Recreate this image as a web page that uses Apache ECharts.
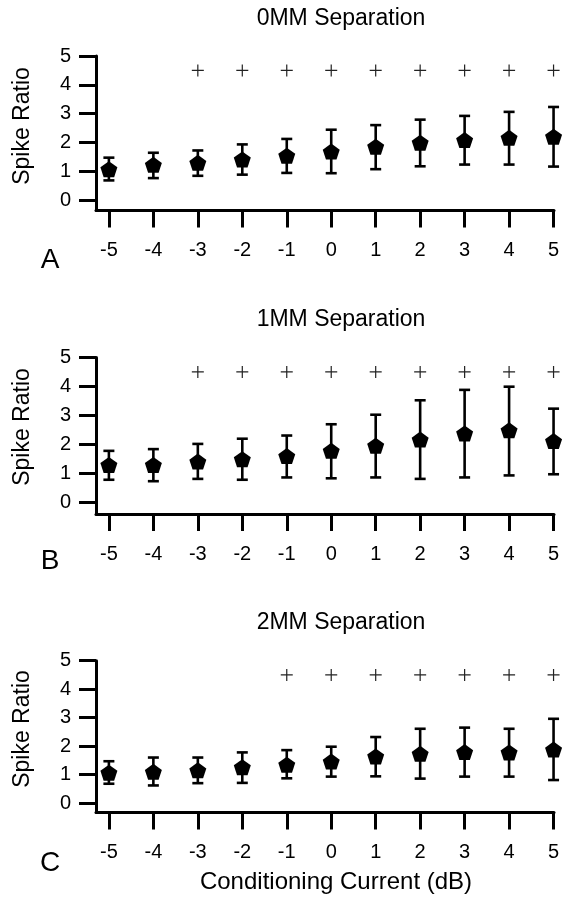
<!DOCTYPE html>
<html>
<head>
<meta charset="utf-8">
<script src="https://cdn.jsdelivr.net/npm/echarts@6/dist/echarts.min.js"></script>
<style>
  html, body { margin: 0; padding: 0; background: #fff; }
  #main { width: 563px; height: 897px; }
</style>
</head>
<body>
<div id="main"></div>
<script type="text/javascript">
// conditioning current (dB)
var currents = [-5, -4, -3, -2, -1, 0, 1, 2, 3, 4, 5];
var yTicks = [0, 1, 2, 3, 4, 5];

// 0MM separation
var meanA = [1.07, 1.22, 1.29, 1.41, 1.54, 1.68, 1.85, 1.99, 2.08, 2.16, 2.20];
var lowA  = [0.68, 0.76, 0.84, 0.88, 0.94, 0.93, 1.07, 1.17, 1.23, 1.23, 1.16];
var highA = [1.47, 1.64, 1.72, 1.93, 2.12, 2.44, 2.60, 2.79, 2.92, 3.06, 3.23];
var sigA  = [-3, -2, -1, 0, 1, 2, 3, 4, 5];

// 1MM separation
var meanB = [1.28, 1.28, 1.40, 1.48, 1.59, 1.77, 1.95, 2.16, 2.37, 2.48, 2.11];
var lowB  = [0.77, 0.72, 0.80, 0.77, 0.85, 0.82, 0.85, 0.80, 0.85, 0.92, 0.96];
var highB = [1.77, 1.83, 2.01, 2.19, 2.30, 2.69, 3.02, 3.52, 3.88, 3.99, 3.23];
var sigB  = [-3, -2, -1, 0, 1, 2, 3, 4, 5];

// 2MM separation
var meanC = [1.07, 1.10, 1.15, 1.26, 1.35, 1.46, 1.64, 1.73, 1.79, 1.78, 1.88];
var lowC  = [0.68, 0.62, 0.70, 0.71, 0.87, 0.93, 0.94, 0.86, 0.93, 0.93, 0.81];
var highC = [1.47, 1.60, 1.60, 1.78, 1.86, 1.98, 2.32, 2.61, 2.65, 2.61, 2.96];
var sigC  = [-1, 0, 1, 2, 3, 4, 5];

var sigLevel = 4.5;

var panels = [
    { title: '0MM Separation', letter: 'A', mean: meanA, low: lowA, high: highA, sig: sigA,
      top: 56, height: 154.5, ymin: -0.365, titleY: 19, letterY: 260, nameY: 126 },
    { title: '1MM Separation', letter: 'B', mean: meanB, low: lowB, high: highB, sig: sigB,
      top: 357.5, height: 156.5, ymin: -0.415, titleY: 320, letterY: 561, nameY: 427 },
    { title: '2MM Separation', letter: 'C', mean: meanC, low: lowC, high: highC, sig: sigC,
      top: 660.7, height: 151.8, ymin: -0.33, titleY: 623, letterY: 863, nameY: 729 }
];

var FONT = '"Liberation Sans", Arial, sans-serif';
var pentagon = 'path://M50,0 L97.55,34.55 L79.39,90.45 L20.61,90.45 L2.45,34.55 Z';
var plus = 'path://M5.4,0H6.6V5.4H12V6.6H6.6V12H5.4V6.6H0V5.4H5.4Z';

var grids = [], xAxes = [], yAxes = [], series = [], graphics = [];

panels.forEach(function (p, i) {
    grids.push({ left: 96, right: 9, top: p.top, height: p.height });

    xAxes.push({
        type: 'value', gridIndex: i, min: -5.29, max: 5.01,
        splitLine: { show: false },
        axisLine: { onZero: false, lineStyle: { color: '#000', width: 3 } },
        axisTick: { customValues: currents, length: 17, lineStyle: { color: '#000', width: 3 } },
        axisLabel: { customValues: currents, margin: 30, color: '#000', fontSize: 20, fontFamily: FONT }
    });

    yAxes.push({
        type: 'value', gridIndex: i, min: p.ymin, max: 5,
        splitLine: { show: false },
        axisLine: { show: true, onZero: false, lineStyle: { color: '#000', width: 3 } },
        axisTick: { show: true, customValues: yTicks, length: 17, lineStyle: { color: '#000', width: 3 } },
        axisLabel: { customValues: yTicks, margin: 25, color: '#000', fontSize: 20, fontFamily: FONT }
    });

    var bars = currents.map(function (c, k) { return [c, p.low[k], p.high[k]]; });
    series.push({
        type: 'custom', xAxisIndex: i, yAxisIndex: i, z: 2,
        data: bars,
        encode: { x: 0, y: [1, 2] },
        renderItem: function (params, api) {
            var lo = api.coord([api.value(0), api.value(1)]);
            var hi = api.coord([api.value(0), api.value(2)]);
            var cap = 5.5;
            var style = { stroke: '#000', lineWidth: 2.6 };
            return {
                type: 'group',
                children: [
                    { type: 'line', shape: { x1: hi[0], y1: hi[1], x2: lo[0], y2: lo[1] }, style: style },
                    { type: 'line', shape: { x1: hi[0] - cap, y1: hi[1], x2: hi[0] + cap, y2: hi[1] }, style: style },
                    { type: 'line', shape: { x1: lo[0] - cap, y1: lo[1], x2: lo[0] + cap, y2: lo[1] }, style: style }
                ]
            };
        }
    });

    series.push({
        type: 'scatter', xAxisIndex: i, yAxisIndex: i, z: 3,
        symbol: pentagon, symbolSize: [17, 16],
        itemStyle: { color: '#000', opacity: 1 },
        data: currents.map(function (c, k) { return [c, p.mean[k]]; })
    });

    series.push({
        type: 'scatter', xAxisIndex: i, yAxisIndex: i, z: 3,
        symbol: plus, symbolSize: 12,
        itemStyle: { color: '#222', opacity: 1 },
        data: p.sig.map(function (c) { return [c, sigLevel]; })
    });

    graphics.push({
        type: 'text', x: 341, y: p.titleY,
        style: { text: p.title, fontSize: 23, fontFamily: FONT, fill: '#000', align: 'center', verticalAlign: 'middle' }
    });
    graphics.push({
        type: 'text', x: 50, y: p.letterY,
        style: { text: p.letter, fontSize: 28, fontFamily: FONT, fill: '#000', align: 'center', verticalAlign: 'middle' }
    });
    graphics.push({
        type: 'text', x: 22.5, y: p.nameY, rotation: Math.PI / 2,
        style: { text: 'Spike Ratio', fontSize: 23, fontFamily: FONT, fill: '#000', align: 'center', verticalAlign: 'middle' }
    });
});

graphics.push({
    type: 'text', x: 336, y: 882.5,
    style: { text: 'Conditioning Current (dB)', fontSize: 24, fontFamily: FONT, fill: '#000', align: 'center', verticalAlign: 'middle' }
});

var myChart = echarts.init(document.getElementById('main'));
myChart.setOption({
    animation: false,
    backgroundColor: '#fff',
    grid: grids,
    xAxis: xAxes,
    yAxis: yAxes,
    series: series,
    graphic: graphics
});
</script>
</body>
</html>
